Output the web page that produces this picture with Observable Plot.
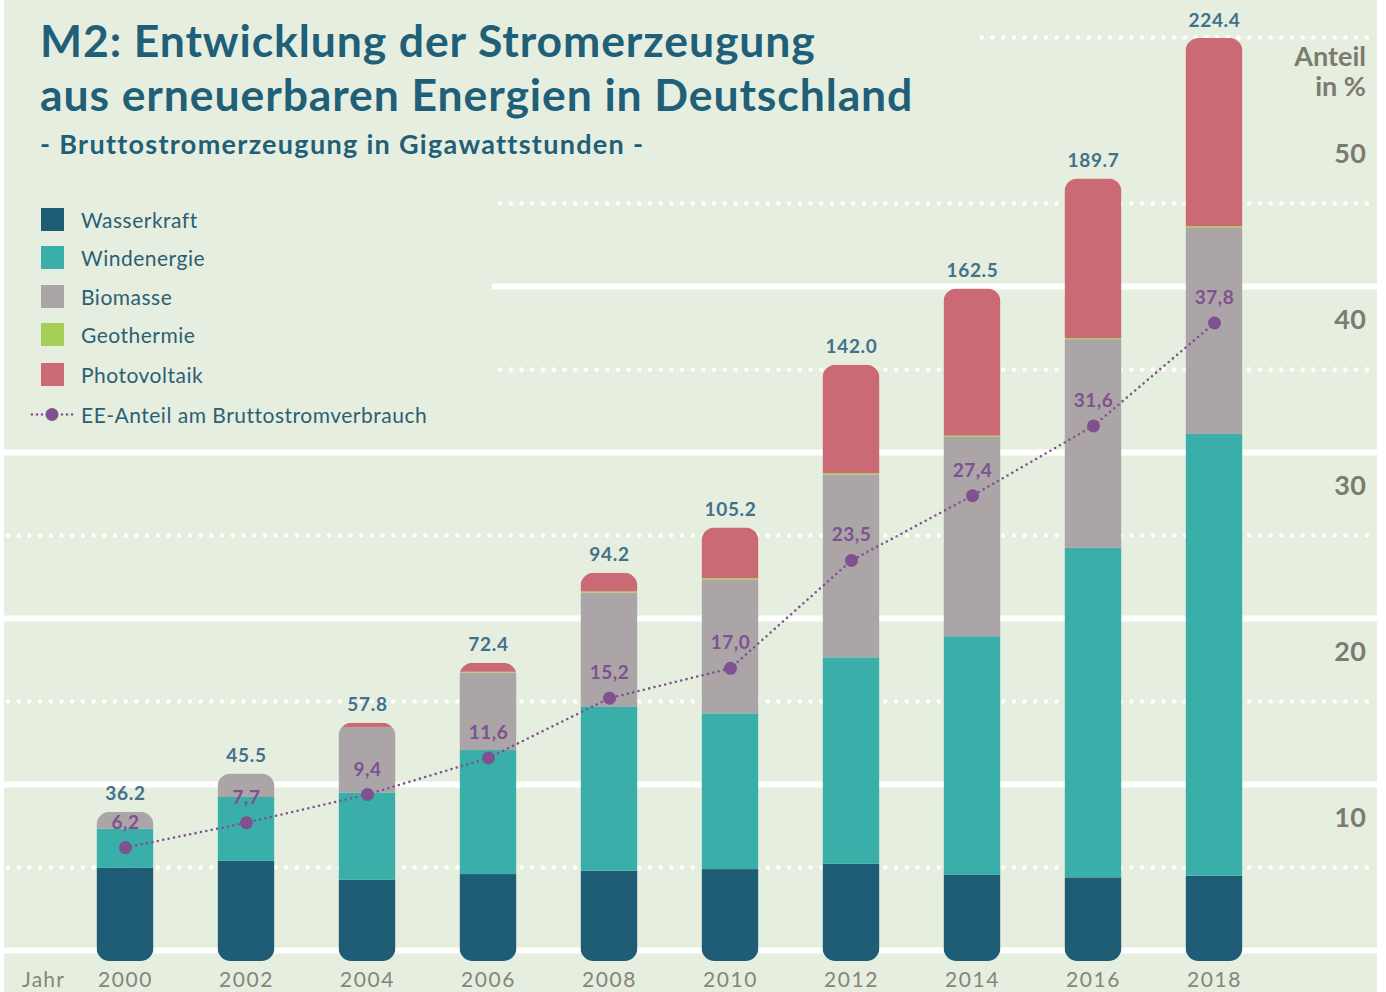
<!DOCTYPE html>
<html><head><meta charset="utf-8">
<script src="https://cdn.jsdelivr.net/npm/d3@7"></script>
<script src="https://cdn.jsdelivr.net/npm/@observablehq/plot@0.6"></script>
<style>
html,body{margin:0;padding:0;background:#fff;}
#root{position:relative;width:1386px;height:992px;overflow:hidden;font-family:Lato,"Open Sans",sans-serif;}
#panel{position:absolute;left:4px;top:0;width:1373px;height:992px;background:#e6eee0;}
.layer{position:absolute;left:0;top:0;}
.cover{position:absolute;background:#e6eee0;}
.title{position:absolute;left:40px;height:48px;font-size:44.5px;line-height:48px;font-weight:700;color:#1f5f78;white-space:nowrap;letter-spacing:0.9px;}
.subtitle{position:absolute;left:40px;top:127px;font-size:27px;font-weight:700;color:#1f5f78;white-space:nowrap;letter-spacing:1.3px;}
.leg{position:absolute;left:41px;height:23px;display:flex;align-items:center;font-size:21px;color:#2b6073;white-space:nowrap;letter-spacing:0.5px;}
.leg .sw{width:23px;height:23px;margin-right:17px;flex:none;}
.anteil{position:absolute;right:20px;top:41px;text-align:right;font-size:27px;line-height:30px;font-weight:700;color:#7b7b6f;}
.jahr{position:absolute;left:22px;top:966px;font-size:21px;color:#85857a;letter-spacing:1.2px;}
</style>
</head><body>
<div id="root">
  <div id="panel"></div>
  <div id="grid" class="layer"></div>
  <div class="cover" style="left:4px;top:0;width:971px;height:192px;"></div>
  <div class="cover" style="left:4px;top:0;width:488px;height:445px;"></div>
  <div class="title" style="top:16px;">M2: Entwicklung der Stromerzeugung</div>
  <div class="title" style="top:70px;">aus erneuerbaren Energien in Deutschland</div>
  <div class="subtitle">- Bruttostromerzeugung in Gigawattstunden -</div>
  <div id="legend"></div>
  <div class="anteil">Anteil<br>in %</div>
  <div class="jahr">Jahr</div>
  <div id="bars" class="layer"></div>
  <div id="line" class="layer"></div>
</div>
<script>
// ---- data ----
const years = ["2000","2002","2004","2006","2008","2010","2012","2014","2016","2018"];
const wasserkraft  = [22.6, 24.3, 19.7, 21.1, 21.9, 22.3, 23.6, 21.0, 20.3, 20.7];
const windenergie  = [ 9.5, 15.5, 21.2, 30.1, 39.9, 37.8, 50.1, 57.8, 80.0, 107.2];
const biomasse     = [ 4.1,  5.7, 15.9, 18.8, 27.6, 32.4, 44.4, 48.4, 50.6, 50.0];
const geothermie   = [ 0.0,  0.0,  0.0,  0.2,  0.3,  0.4,  0.3,  0.3,  0.3,  0.4];
const photovoltaik = [ 0.0,  0.0,  1.0,  2.2,  4.5, 12.3, 26.3, 35.7, 38.7, 45.7];
const gesamt = [36.2, 45.5, 57.8, 72.4, 94.2, 105.2, 142.0, 162.5, 189.7, 224.4];
const anteil = [6.2, 7.7, 9.4, 11.6, 15.2, 17.0, 23.5, 27.4, 31.6, 37.8];
const sources = ["Wasserkraft","Windenergie","Biomasse","Geothermie","Photovoltaik"];
const colors  = ["#1f5c75","#3aafa9","#aba5a8","#a6cf57","#cb6a74"];
const anteilTicks = [10, 20, 30, 40, 50];
const gridSolid = [0, 10, 20, 30, 40];
const gridDotted = [5, 15, 25, 35, 45, 55];
const lineLabel = "EE-Anteil am Bruttostromverbrauch";

const purple = "#7f5190";
const series = [wasserkraft, windenergie, biomasse, geothermie, photovoltaik];
const stackData = years.flatMap((y,i)=>sources.map((s,j)=>({year:y, source:s, value:series[j][i]})));
const sums = years.map((y,i)=>d3.sum(series, a=>a[i]));
const totalsData = years.map((y,i)=>({year:y, top:sums[i], label:d3.format(".1f")(gesamt[i])}));
const pctData = years.map((y,i)=>({year:y, pct:anteil[i], label:d3.format(".1f")(anteil[i]).replace(".", ",")}));

const W = 1386, H = 992;
const xCfg = {type:"band", domain:years, paddingInner:0.53, paddingOuter:0.265, align:0.5, round:false, axis:null};
const font = "Lato, 'Open Sans', sans-serif";

// grid layer
const grid = Plot.plot({
  width:W, height:H, marginLeft:4, marginRight:9, marginTop:120, marginBottom:42,
  y:{domain:[0,50], axis:null},
  style:{background:"transparent"},
  marks:[
    Plot.ruleY(gridSolid, {stroke:"white", strokeWidth:6}),
    Plot.ruleY(gridDotted, {stroke:"white", strokeWidth:4.5, strokeDasharray:"0 10.7", strokeLinecap:"round", strokeDashoffset:-4})
  ]
});
document.getElementById("grid").appendChild(grid);

// bars layer
const bars = Plot.plot({
  width:W, height:H, marginLeft:64.5, marginRight:111.5, marginTop:38, marginBottom:31,
  x:xCfg,
  y:{domain:[0, d3.max(sums)], axis:null},
  color:{domain:sources, range:colors},
  style:{background:"transparent", fontFamily:font},
  marks:[
    Plot.barY(stackData, {x:"year", y:"value", fill:"source", order:sources}),
    Plot.barY(totalsData, {x:"year", y:"top", rx:13, ry:13, fill:"none"}),
    Plot.text(totalsData, {x:"year", y:"top", text:"label", dy:-18, fill:"#41718b", fontSize:19, fontWeight:"bold"}),
    Plot.axisX({tickSize:0, tickPadding:11, fontSize:21, fill:"#85857a", fontWeight:"normal", label:null})
  ]
});
{
  const gs = bars.querySelectorAll('g[aria-label="bar"]');
  const stackG = gs[0], clipG = gs[1];
  const ns = "http://www.w3.org/2000/svg";
  const defs = document.createElementNS(ns, "defs");
  const cp = document.createElementNS(ns, "clipPath");
  cp.setAttribute("id", "barclip");
  clipG.querySelectorAll("rect").forEach(r=>cp.appendChild(r.cloneNode()));
  defs.appendChild(cp);
  bars.insertBefore(defs, bars.firstChild);
  clipG.remove();
  stackG.setAttribute("clip-path", "url(#barclip)");
  bars.querySelectorAll('g[aria-label="x-axis tick label"] text').forEach(t=>t.style.letterSpacing="1.6px");
  bars.querySelectorAll('g[aria-label="text"] text').forEach(t=>t.style.letterSpacing="0.7px");
}
document.getElementById("bars").appendChild(bars);

// line layer
const line = Plot.plot({
  width:W, height:H, marginLeft:64.5, marginRight:111.5, marginTop:120, marginBottom:42,
  x:xCfg,
  y:{domain:[0,50], axis:null},
  style:{background:"transparent", fontFamily:font},
  marks:[
    Plot.line(pctData, {x:"year", y:"pct", stroke:purple, strokeWidth:2.6, strokeDasharray:"0 5.5", strokeLinecap:"round"}),
    Plot.dot(pctData, {x:"year", y:"pct", r:6.5, fill:purple}),
    Plot.text(pctData, {x:"year", y:"pct", text:"label", dy:-25, fill:purple, fontSize:19, fontWeight:"bold"}),
    Plot.text(anteilTicks, {y:d=>d, text:d=>String(d), frameAnchor:"right", dx:91.5, dy:34, textAnchor:"end", fill:"#7b7b6f", fontSize:27, fontWeight:"bold"})
  ]
});
line.querySelectorAll('g[aria-label="text"] text').forEach(t=>t.style.letterSpacing="0.5px");
document.getElementById("line").appendChild(line);

// legend
const legend = document.getElementById("legend");
const rowsY = [208, 246, 285, 323, 363];
sources.forEach((s,i)=>{
  const d = document.createElement("div");
  d.className = "leg"; d.style.top = rowsY[i] + "px";
  d.innerHTML = `<span class="sw" style="background:${colors[i]}"></span>${s}`;
  legend.appendChild(d);
});
{
  const d = document.createElement("div");
  d.className = "leg"; d.style.top = "403px"; d.style.left = "30px";
  d.innerHTML = `<svg width="45" height="23" style="margin-right:6px;flex:none"><line x1="2" y1="11.5" x2="43" y2="11.5" stroke="${purple}" stroke-width="2.6" stroke-dasharray="0 5" stroke-linecap="round"/><circle cx="22" cy="11.5" r="6.5" fill="${purple}"/></svg>${lineLabel}`;
  legend.appendChild(d);
}
</script>
</body></html>
